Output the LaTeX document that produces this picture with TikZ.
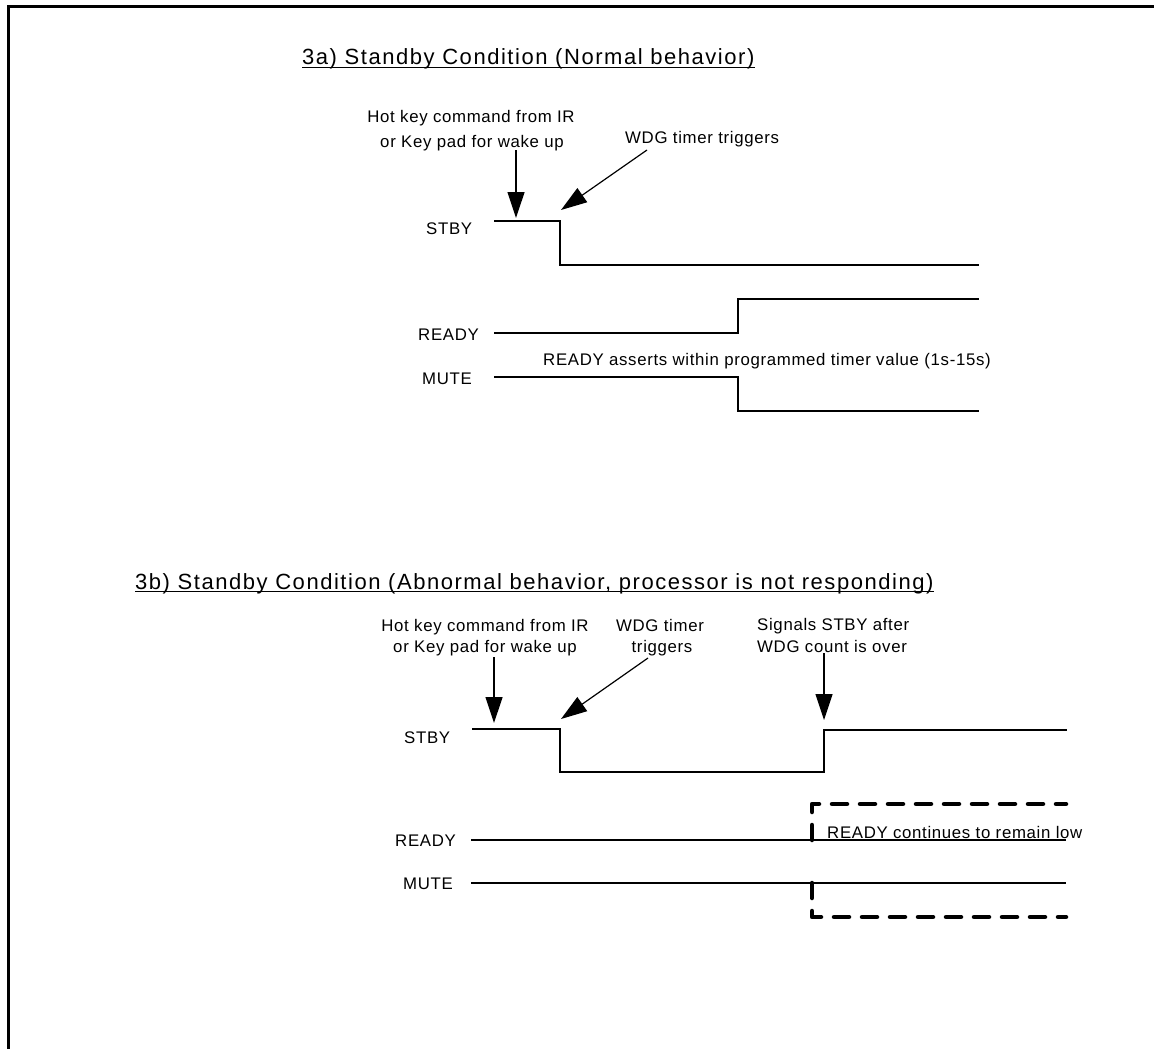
\documentclass[tikz,border=0pt]{standalone}
\usepackage{fontspec}
\setmainfont{Liberation Sans}[LetterSpace=4]
\newfontfamily\titlefont{Liberation Sans}[LetterSpace=7]
\usetikzlibrary{arrows.meta}
\begin{document}
\begin{tikzpicture}[x=1pt,y=-1pt,
 lbl/.style={inner sep=0pt, font=\fontsize{16.8}{20}\selectfont},
 ttl/.style={inner sep=0pt, font=\titlefont\fontsize{22}{26}\selectfont},
 sig/.style={line width=1.3pt},
 arr/.style={line width=1.2pt, -{Triangle[length=26pt,width=17pt]}},
 hold/.style={line width=4.5pt, dash pattern=on 15pt off 13pt, line cap=round, line join=round},
 frameline/.style={line width=3pt},
 uline/.style={line width=1.5pt}]
\useasboundingbox (0,0) rectangle (1154,1049);
\draw[frameline] (8.5,1052) -- (8.5,7) -- (1157,7);

% ---------- 3a ----------
\node[ttl, anchor=base west] (t3a) at (302,65) {3a) Standby Condition (Normal behavior)};
\draw[uline] ([yshift=-2.5pt]t3a.base west) -- ([yshift=-2.5pt]t3a.base east);

\node[lbl, anchor=base] (hka1) at (471,122.7) {Hot key command from IR};
\node[lbl, anchor=base] (hka2) at (472,147.7) {or Key pad for wake up};
\node[lbl, anchor=base west] (wdga) at (625,143) {WDG timer triggers};
\node[lbl, anchor=base west] (stbya) at (426,234) {STBY};
\node[lbl, anchor=base west] (readya) at (418,340) {READY};
\node[lbl, anchor=base west] (readytxt) at (543,365) {READY asserts within programmed timer value (1s-15s)};
\node[lbl, anchor=base west] (mutea) at (422,384) {MUTE};

\draw[sig] (494,221) -- (560,221) -- (560,265) -- (979,265);
\draw[sig] (494,333) -- (738,333) -- (738,299) -- (979,299);
\draw[sig] (494,377) -- (738,377) -- (738,411) -- (979,411);

\coordinate (a1s) at (516,150); \coordinate (a1t) at (516,218);
\draw[arr] (a1s) -- (a1t);
\coordinate (a2s) at (647,150); \coordinate (a2t) at (561,210);
\draw[arr] (a2s) -- (a2t);

% ---------- 3b ----------
\node[ttl, anchor=base west] (t3b) at (135,589) {3b) Standby Condition (Abnormal behavior, processor is not responding)};
\draw[uline] ([yshift=-2.5pt]t3b.base west) -- ([yshift=-2.5pt]t3b.base east);

\node[lbl, anchor=base] (hkb1) at (485,631) {Hot key command from IR};
\node[lbl, anchor=base] (hkb2) at (485,652) {or Key pad for wake up};
\node[lbl, anchor=base] (wdgb1) at (660,631) {WDG timer};
\node[lbl, anchor=base] (wdgb2) at (662,652) {triggers};
\node[lbl, anchor=base west] (sigb1) at (757,630) {Signals STBY after};
\node[lbl, anchor=base west] (sigb2) at (757,652) {WDG count is over};
\node[lbl, anchor=base west] (stbyb) at (404,743) {STBY};
\node[lbl, anchor=base west] (readyb) at (395,846) {READY};
\node[lbl, anchor=base west] (muteb) at (403,889) {MUTE};

\draw[sig] (472,729) -- (560,729) -- (560,772) -- (824,772) -- (824,730) -- (1067,730);
\draw[sig] (471,840) -- (1066,840);
\draw[sig] (471,883) -- (1066,883);
\draw[hold] (812,840) -- (812,804) -- (1066,804);
\draw[hold] (812,883) -- (812,917) -- (1066,917);
\node[lbl, anchor=base west] (remain) at (827,838) {READY continues to remain low};

\coordinate (b1s) at (494,657); \coordinate (b1t) at (494,723);
\draw[arr] (b1s) -- (b1t);
\coordinate (b2s) at (648,658); \coordinate (b2t) at (561,719);
\draw[arr] (b2s) -- (b2t);
\coordinate (b3s) at (824,653); \coordinate (b3t) at (824,720);
\draw[arr] (b3s) -- (b3t);
\end{tikzpicture}
\end{document}
